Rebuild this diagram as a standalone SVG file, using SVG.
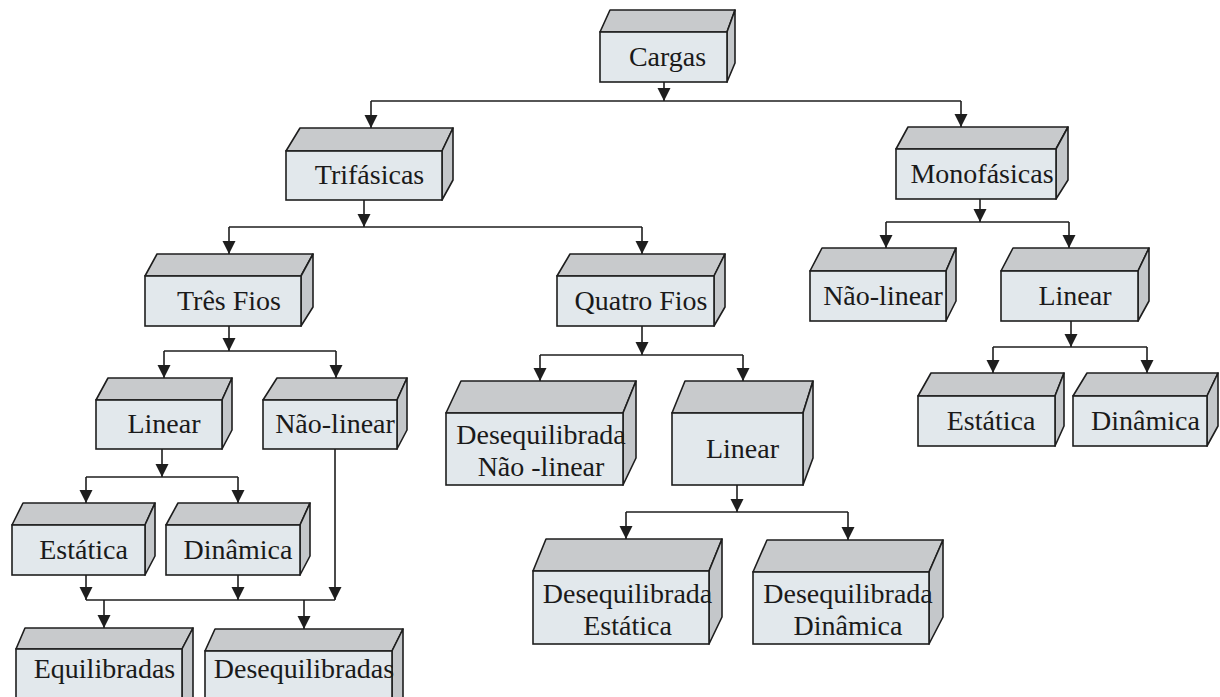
<svg xmlns="http://www.w3.org/2000/svg" width="1220" height="697" viewBox="0 0 1220 697">
<style>
.top{fill:#c8cacc;stroke:#1e1e1e;stroke-width:1.6;stroke-linejoin:round}
.side{fill:#c4c7ca;stroke:#1e1e1e;stroke-width:1.6;stroke-linejoin:round}
.front{fill:#e2e8ec;stroke:#1e1e1e;stroke-width:1.6}
.lbl{font-family:"Liberation Serif","DejaVu Serif",serif;font-size:28px;fill:#1a1a1a;text-anchor:middle}
.conn path{fill:none;stroke:#1e1e1e;stroke-width:1.6}
.conn path.a{marker-end:url(#arr)}
</style>
<defs>
<marker id="arr" viewBox="0 0 13 14" refX="13" refY="7" markerWidth="13" markerHeight="14" markerUnits="userSpaceOnUse" orient="auto">
<path d="M0,0.5 L13,7 L0,13.5 z" fill="#1e1e1e"/>
</marker>
</defs>
<rect width="1220" height="697" fill="#ffffff"/>
<g class="conn" id="connectors">
<path class="a" d="M664,82 V101"/>
<path d="M371,101 H961"/>
<path class="a" d="M371,101 V128"/>
<path class="a" d="M961,101 V127"/>
<path class="a" d="M364,200 V227"/>
<path d="M229,227 H642"/>
<path class="a" d="M229,227 V254"/>
<path class="a" d="M642,227 V254"/>
<path class="a" d="M980,199 V222"/>
<path d="M886,222 H1069"/>
<path class="a" d="M886,222 V248"/>
<path class="a" d="M1069,222 V248"/>
<path class="a" d="M229,326 V351"/>
<path d="M164,351 H336"/>
<path class="a" d="M164,351 V378"/>
<path class="a" d="M336,351 V378"/>
<path class="a" d="M642,326 V355"/>
<path d="M540,355 H743"/>
<path class="a" d="M540,355 V381"/>
<path class="a" d="M743,355 V381"/>
<path class="a" d="M1071,321 V347"/>
<path d="M993,347 H1147"/>
<path class="a" d="M993,347 V373"/>
<path class="a" d="M1147,347 V373"/>
<path class="a" d="M162,449 V477"/>
<path d="M86,477 H238"/>
<path class="a" d="M86,477 V503"/>
<path class="a" d="M238,477 V503"/>
<path class="a" d="M737,485 V512"/>
<path d="M626,512 H848"/>
<path class="a" d="M626,512 V539"/>
<path class="a" d="M848,512 V540"/>
<path class="a" d="M86,575 V600"/>
<path class="a" d="M238,575 V600"/>
<path class="a" d="M335,449 V600"/>
<path d="M86,600 H335"/>
<path class="a" d="M104,600 V628"/>
<path class="a" d="M304,600 V629"/>
</g>
<g id="n-cargas">
<polygon class="top" points="600,32 610,10 735,10 727,32"/>
<polygon class="side" points="727,32 735,10 735,63 727,82"/>
<rect class="front" x="600" y="32" width="127" height="50"/>
<text class="lbl" x="667.5" y="65.5">Cargas</text>
</g>
<g id="n-trifasicas">
<polygon class="top" points="286,151 300,128 453,128 442,151"/>
<polygon class="side" points="442,151 453,128 453,180 442,200"/>
<rect class="front" x="286" y="151" width="156" height="49"/>
<text class="lbl" x="369.5" y="184">Trifásicas</text>
</g>
<g id="n-monofasicas">
<polygon class="top" points="896,149 908,127 1068,127 1056,149"/>
<polygon class="side" points="1056,149 1068,127 1068,180 1056,199"/>
<rect class="front" x="896" y="149" width="160" height="50"/>
<text class="lbl" x="982" y="182.5">Monofásicas</text>
</g>
<g id="n-tres-fios">
<polygon class="top" points="145,276 157,254 313,254 301,276"/>
<polygon class="side" points="301,276 313,254 313,307 301,326"/>
<rect class="front" x="145" y="276" width="156" height="50"/>
<text class="lbl" x="229" y="309.5">Três Fios</text>
</g>
<g id="n-quatro-fios">
<polygon class="top" points="557,276 570,254 725,254 714,276"/>
<polygon class="side" points="714,276 725,254 725,307 714,326"/>
<rect class="front" x="557" y="276" width="157" height="50"/>
<text class="lbl" x="641" y="309.5">Quatro Fios</text>
</g>
<g id="n-mono-naolinear">
<polygon class="top" points="810,271 822,248 956,248 946,271"/>
<polygon class="side" points="946,271 956,248 956,301 946,321"/>
<rect class="front" x="810" y="271" width="136" height="50"/>
<text class="lbl" x="883" y="304.5">Não-linear</text>
</g>
<g id="n-mono-linear">
<polygon class="top" points="1001,271 1013,248 1149,248 1138,271"/>
<polygon class="side" points="1138,271 1149,248 1149,301 1138,321"/>
<rect class="front" x="1001" y="271" width="137" height="50"/>
<text class="lbl" x="1075" y="304.5">Linear</text>
</g>
<g id="n-tres-linear">
<polygon class="top" points="96,400 108,378 232,378 222,400"/>
<polygon class="side" points="222,400 232,378 232,430 222,449"/>
<rect class="front" x="96" y="400" width="126" height="49"/>
<text class="lbl" x="164" y="433">Linear</text>
</g>
<g id="n-tres-naolinear">
<polygon class="top" points="263,400 277,378 407,378 397,400"/>
<polygon class="side" points="397,400 407,378 407,430 397,449"/>
<rect class="front" x="263" y="400" width="134" height="49"/>
<text class="lbl" x="335" y="433">Não-linear</text>
</g>
<g id="n-deseq-naolinear">
<polygon class="top" points="446,413 461,381 636,381 623,413"/>
<polygon class="side" points="623,413 636,381 636,458 623,485"/>
<rect class="front" x="446" y="413" width="177" height="72"/>
<text class="lbl" x="541" y="444">Desequilibrada</text>
<text class="lbl" x="541" y="476">Não -linear</text>
</g>
<g id="n-quatro-linear">
<polygon class="top" points="672,413 685,381 813,381 803,413"/>
<polygon class="side" points="803,413 813,381 813,458 803,485"/>
<rect class="front" x="672" y="413" width="131" height="72"/>
<text class="lbl" x="742.5" y="458">Linear</text>
</g>
<g id="n-mono-estatica">
<polygon class="top" points="918,396 931,373 1064,373 1055,396"/>
<polygon class="side" points="1055,396 1064,373 1064,426 1055,446"/>
<rect class="front" x="918" y="396" width="137" height="50"/>
<text class="lbl" x="991" y="429.5">Estática</text>
</g>
<g id="n-mono-dinamica">
<polygon class="top" points="1073,396 1087,373 1218,373 1207,396"/>
<polygon class="side" points="1207,396 1218,373 1218,426 1207,446"/>
<rect class="front" x="1073" y="396" width="134" height="50"/>
<text class="lbl" x="1145.5" y="429.5">Dinâmica</text>
</g>
<g id="n-tres-estatica">
<polygon class="top" points="12,525 23,503 155,503 145,525"/>
<polygon class="side" points="145,525 155,503 155,556 145,575"/>
<rect class="front" x="12" y="525" width="133" height="50"/>
<text class="lbl" x="83.5" y="558.5">Estática</text>
</g>
<g id="n-tres-dinamica">
<polygon class="top" points="166,525 178,503 310,503 300,525"/>
<polygon class="side" points="300,525 310,503 310,556 300,575"/>
<rect class="front" x="166" y="525" width="134" height="50"/>
<text class="lbl" x="238" y="558.5">Dinâmica</text>
</g>
<g id="n-equilibradas">
<polygon class="top" points="16,649 25,628 193,628 182,649"/>
<polygon class="side" points="182,649 193,628 193,702 182,720"/>
<rect class="front" x="16" y="649" width="166" height="71"/>
<text class="lbl" x="104.5" y="678">Equilibradas</text>
</g>
<g id="n-desequilibradas">
<polygon class="top" points="205,651 215,629 403,629 392,651"/>
<polygon class="side" points="392,651 403,629 403,702 392,720"/>
<rect class="front" x="205" y="651" width="187" height="69"/>
<text class="lbl" x="304" y="678">Desequilibradas</text>
</g>
<g id="n-deseq-estatica">
<polygon class="top" points="533,571 546,539 722,539 709,571"/>
<polygon class="side" points="709,571 722,539 722,617 709,644"/>
<rect class="front" x="533" y="571" width="176" height="73"/>
<text class="lbl" x="627.5" y="603">Desequilibrada</text>
<text class="lbl" x="627.5" y="635">Estática</text>
</g>
<g id="n-deseq-dinamica">
<polygon class="top" points="753,572 767,540 943,540 929,572"/>
<polygon class="side" points="929,572 943,540 943,617 929,644"/>
<rect class="front" x="753" y="572" width="176" height="72"/>
<text class="lbl" x="848" y="603">Desequilibrada</text>
<text class="lbl" x="848" y="635">Dinâmica</text>
</g>
</svg>
